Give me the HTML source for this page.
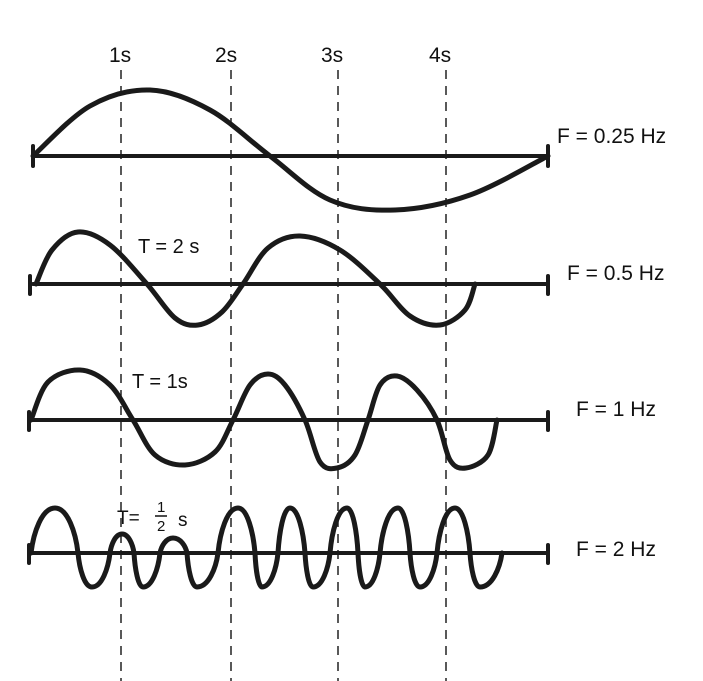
<!DOCTYPE html>
<html><head><meta charset="utf-8"><style>
html,body{margin:0;padding:0;background:#fff;}
svg{display:block;}
text{font-family:"Liberation Sans",sans-serif;fill:#111;}
</style></head><body>
<svg id="s" width="703" height="681" viewBox="0 0 703 681">
<g stroke="#222" stroke-width="1.5" stroke-dasharray="9,7">
<line x1="121" y1="70" x2="121" y2="681"/>
<line x1="231" y1="70" x2="231" y2="681"/>
<line x1="338" y1="70" x2="338" y2="681"/>
<line x1="446" y1="70" x2="446" y2="681"/>
</g>
<g font-size="21">
<text x="109" y="62">1s</text><text x="215" y="62">2s</text>
<text x="321" y="62">3s</text><text x="429" y="62">4s</text>
</g>
<g stroke="#1a1a1a" stroke-width="4" fill="none" stroke-linecap="round">
<line x1="33" y1="156" x2="548" y2="156"/><line x1="33" y1="146" x2="33" y2="166"/><line x1="548" y1="146" x2="548" y2="166"/>
<line x1="33" y1="284" x2="548" y2="284"/><line x1="30" y1="276" x2="30" y2="294"/><line x1="548" y1="276" x2="548" y2="294"/>
<line x1="30" y1="420" x2="548" y2="420"/><line x1="29" y1="412" x2="29" y2="430"/><line x1="548" y1="412" x2="548" y2="430"/>
<line x1="30" y1="553" x2="548" y2="553"/><line x1="29" y1="545" x2="29" y2="563"/><line x1="548" y1="545" x2="548" y2="563"/>
</g>
<g id="w" stroke="#1a1a1a" stroke-width="5" fill="none" stroke-linecap="round"></g>
<g font-size="21">
<text x="557" y="143">F = 0.25 Hz</text>
<text x="567" y="280">F = 0.5 Hz</text>
<text x="576" y="416">F = 1 Hz</text>
<text x="576" y="556">F = 2 Hz</text>
<text x="138" y="253" font-size="20">T = 2 s</text>
<text x="132" y="388" font-size="20">T = 1s</text>
<text x="117" y="524" font-size="19">T=</text>
<text x="157" y="512" font-size="15">1</text>
<line x1="155" y1="516" x2="167" y2="516" stroke="#111" stroke-width="1.5"/>
<text x="157" y="531" font-size="15">2</text>
<text x="178" y="526" font-size="19">s</text>
</g>
</svg>
<script>
var W=[
[[33,156],[90,106],[150,90],[210,110],[270,156],[330,200],[395,210],[470,195],[548,156]],
[[36,284],[52,250],[78,232],[110,245],[147,284],[175,318],[198,325],[222,312],[243,284],[268,248],[300,236],[340,250],[380,284],[410,316],[440,325],[465,310],[475,284]],
[[31,420],[48,382],[80,370],[110,385],[133,420],[155,455],[185,465],[215,452],[233,420],[250,385],[268,374],[285,385],[305,420],[320,462],[337,468],[355,455],[368,420],[380,385],[397,376],[417,390],[437,420],[450,460],[466,468],[488,455],[497,420]]
];
var g=document.getElementById('w');
function add(d){var e=document.createElementNS('http://www.w3.org/2000/svg','path');e.setAttribute('d',d);g.appendChild(e);}
W.forEach(function(p){
 var d='M'+p[0][0]+','+p[0][1];
 for(var i=0;i<p.length-1;i++){
  var p0=p[i-1]||p[i],p1=p[i],p2=p[i+1],p3=p[i+2]||p2;
  var c1=[p1[0]+(p2[0]-p0[0])/6,p1[1]+(p2[1]-p0[1])/6];
  var c2=[p2[0]-(p3[0]-p1[0])/6,p2[1]-(p3[1]-p1[1])/6];
  d+=' C'+c1+' '+c2+' '+p2;
 }
 add(d);
});
var R=[[31,553],[55,508],[78,553],[92,587],[110,553],[122,534],[134,553],[143,587],[160,553],[173,538],[187,553],[197,587],[218,553],[238,508],[255,553],[262,587],[278,553],[290,508],[305,553],[313,587],[330,553],[347,508],[358,553],[365,587],[380,553],[398,508],[410,553],[420,587],[437,553],[455,508],[470,553],[480,587],[502,553]];
var d='M'+R[0];
for(var i=0;i<R.length-1;i++){
 var A=R[i],B=R[i+1],dx=B[0]-A[0],dy=B[1]-A[1];
 var Aext=(i%2==1),c1,c2;
 if(Aext){c1=[A[0]+0.55*dx,A[1]];c2=[B[0]-0.1*dx,B[1]-0.45*dy];}
 else{c1=[A[0]+0.1*dx,A[1]+0.45*dy];c2=[B[0]-0.55*dx,B[1]];}
 d+=' C'+c1+' '+c2+' '+B;
}
add(d);
</script>
</body></html>
